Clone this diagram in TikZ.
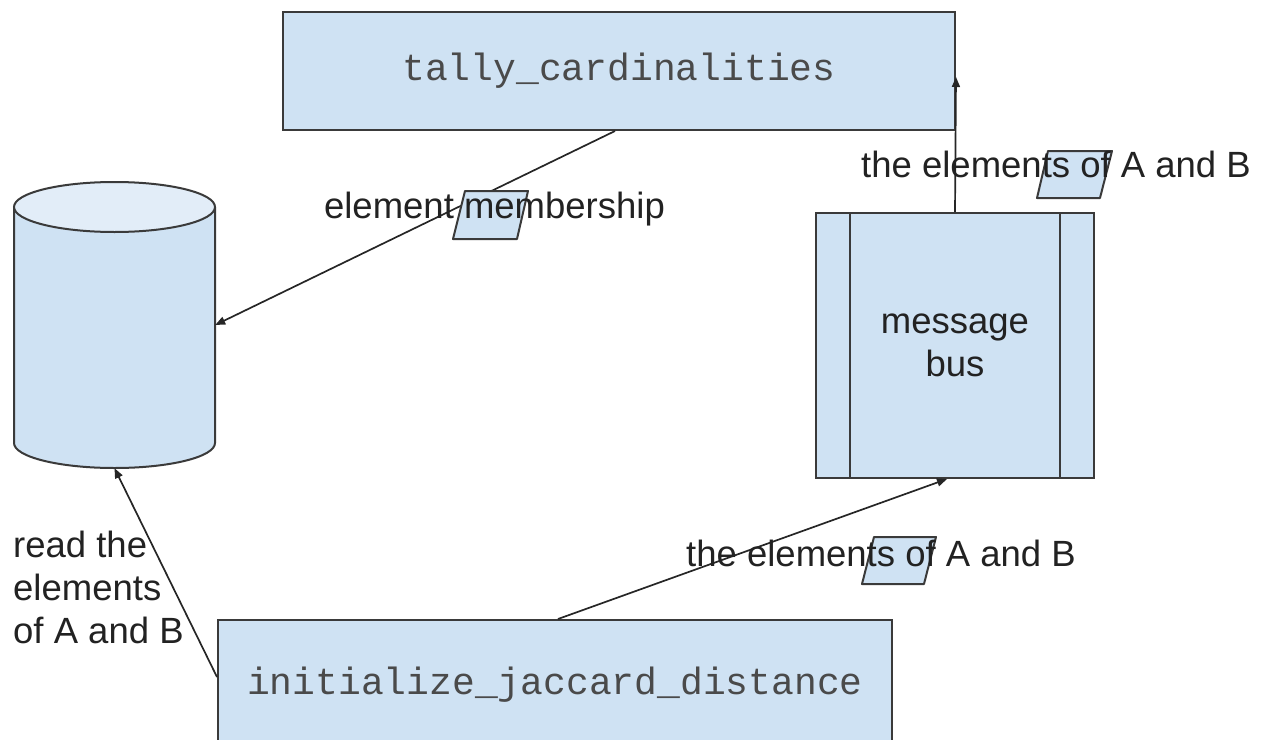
\documentclass[tikz,border=0pt]{standalone}
\usepackage{fontspec}
\setmainfont{Liberation Sans}
\setmonofont{Liberation Mono}
\usetikzlibrary{arrows.meta}
\definecolor{boxfill}{HTML}{CFE2F3}
\definecolor{topfill}{HTML}{E2EDF8}
\definecolor{edge}{HTML}{3A3A3A}
\definecolor{txt}{HTML}{222222}
\definecolor{codetxt}{HTML}{4A4A4A}
\begin{document}
\begin{tikzpicture}[x=1pt,y=-1pt,
  proc/.style={draw=edge,fill=boxfill,line width=2pt,inner sep=0pt},
  conn/.style={draw=black!85,line width=1.7pt,-{Triangle[length=10pt,width=8pt]}},
  dataicon/.style={draw=edge,fill=boxfill,line width=2pt,line join=round},
  lbl/.style={font=\fontsize{36.5}{43}\selectfont,text=txt,inner sep=0pt},
  code/.style={font=\ttfamily\fontsize{38}{44}\selectfont,text=codetxt}]
\useasboundingbox (0,0) rectangle (1266,739);

% cylinder (data store)
\path[fill=boxfill] (14,207) -- (14,443) arc[start angle=180,end angle=0,x radius=100.5,y radius=25] -- (215,207) -- cycle;
\draw[edge,line width=2pt] (14,207) -- (14,443) arc[start angle=180,end angle=0,x radius=100.5,y radius=25] -- (215,207);
\draw[edge,line width=2pt,fill=topfill] (114.5,207) ellipse[x radius=100.5,y radius=25];
\node[inner sep=0pt,minimum width=201pt,minimum height=286pt] (db) at (114.5,325) {};

% process boxes
\node[proc,code,minimum width=672pt,minimum height=118pt] (tally) at (619,71) {\raisebox{-6pt}{tally\_cardinalities}};
\node[proc,code,minimum width=674pt,minimum height=130pt] (init) at (555,685) {initialize\_jaccard\_distance};
\node[proc,lbl,align=center,minimum width=278pt,minimum height=265pt] (bus) at (955,345.5) {message\\bus};
\draw[edge,line width=2pt] ([xshift=35pt]bus.north west) -- ([xshift=35pt]bus.south west);
\draw[edge,line width=2pt] ([xshift=-35pt]bus.north east) -- ([xshift=-35pt]bus.south east);

% connectors
\draw[conn] ([xshift=-4pt]tally.south) -- (db.east);
\draw[conn] (bus.north) -- ([yshift=-6pt]tally.east);
\draw[conn] ([xshift=3pt]init.north) -- ([xshift=-8pt]bus.south);
\draw[conn] ([yshift=8pt]init.west) -- (db.south);

% data icons
\draw[dataicon] (465,191) -- (528,191) -- (517,239) -- (453,239) -- cycle;
\draw[dataicon] (1048,151) -- (1112,151) -- (1100,198) -- (1037,198) -- cycle;
\draw[dataicon] (874,537) -- (936,537) -- (924,584) -- (862,584) -- cycle;

% labels
\node[lbl,anchor=base] (l1) at (494.5,218) {element membership};
\node[lbl,anchor=base] (l2) at (1056,177) {the elements of A and B};
\node[lbl,anchor=base] (l3) at (881,566) {the elements of A and B};
\node[lbl,anchor=base west,align=left] (l4) at (13,643) {read the\\elements\\of A and B};
\end{tikzpicture}
\end{document}
